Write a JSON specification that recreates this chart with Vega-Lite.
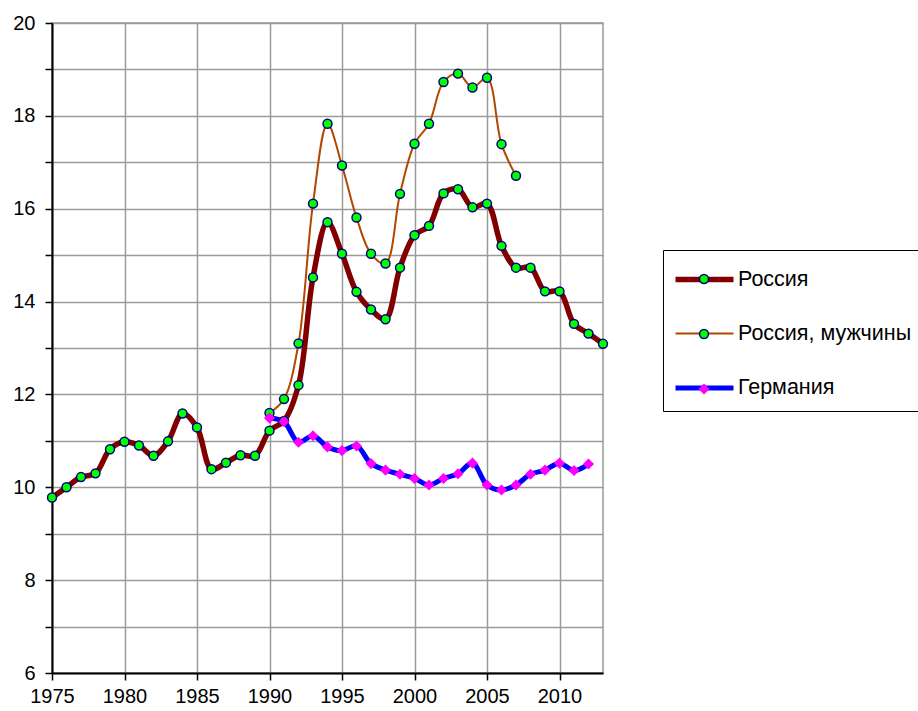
{
  "$schema": "https://vega.github.io/schema/vega-lite/v6.json",
  "width": 551,
  "height": 650,
  "autosize": {"type": "none"},
  "padding": {"left": 52, "top": 23, "right": 315, "bottom": 38},
  "background": "white",
  "config": {
    "view": {"stroke": "#9a9a9a", "strokeWidth": 1.5},
    "font": "Liberation Sans",
    "axis": {
      "grid": true,
      "gridColor": "#9a9a9a",
      "gridWidth": 1.5,
      "domainColor": "#000000",
      "domainWidth": 2,
      "tickColor": "#000000",
      "tickWidth": 1.5,
      "tickSize": 7,
      "labelFontSize": 20,
      "labelColor": "#000000",
      "labelFont": "Liberation Sans",
      "labelFlush": false,
      "labelOverlap": false,
      "title": null
    }
  },
  "data": {
    "values": [
      {"year": 1975, "series": "Россия", "value": 9.78},
      {"year": 1976, "series": "Россия", "value": 10.0},
      {"year": 1977, "series": "Россия", "value": 10.22},
      {"year": 1978, "series": "Россия", "value": 10.3},
      {"year": 1979, "series": "Россия", "value": 10.82},
      {"year": 1980, "series": "Россия", "value": 10.98},
      {"year": 1981, "series": "Россия", "value": 10.9},
      {"year": 1982, "series": "Россия", "value": 10.68},
      {"year": 1983, "series": "Россия", "value": 10.99},
      {"year": 1984, "series": "Россия", "value": 11.59},
      {"year": 1985, "series": "Россия", "value": 11.29},
      {"year": 1986, "series": "Россия", "value": 10.39},
      {"year": 1987, "series": "Россия", "value": 10.53},
      {"year": 1988, "series": "Россия", "value": 10.69},
      {"year": 1989, "series": "Россия", "value": 10.68},
      {"year": 1990, "series": "Россия", "value": 11.22},
      {"year": 1991, "series": "Россия", "value": 11.43},
      {"year": 1992, "series": "Россия", "value": 12.2},
      {"year": 1993, "series": "Россия", "value": 14.52},
      {"year": 1994, "series": "Россия", "value": 15.71},
      {"year": 1995, "series": "Россия", "value": 15.03},
      {"year": 1996, "series": "Россия", "value": 14.21},
      {"year": 1997, "series": "Россия", "value": 13.83},
      {"year": 1998, "series": "Россия", "value": 13.62},
      {"year": 1999, "series": "Россия", "value": 14.73},
      {"year": 2000, "series": "Россия", "value": 15.43},
      {"year": 2001, "series": "Россия", "value": 15.63},
      {"year": 2002, "series": "Россия", "value": 16.33},
      {"year": 2003, "series": "Россия", "value": 16.42},
      {"year": 2004, "series": "Россия", "value": 16.03},
      {"year": 2005, "series": "Россия", "value": 16.11},
      {"year": 2006, "series": "Россия", "value": 15.2},
      {"year": 2007, "series": "Россия", "value": 14.73},
      {"year": 2008, "series": "Россия", "value": 14.73},
      {"year": 2009, "series": "Россия", "value": 14.22},
      {"year": 2010, "series": "Россия", "value": 14.22},
      {"year": 2011, "series": "Россия", "value": 13.52},
      {"year": 2012, "series": "Россия", "value": 13.31},
      {"year": 2013, "series": "Россия", "value": 13.09},
      {"year": 1990, "series": "Россия, мужчины", "value": 11.6},
      {"year": 1991, "series": "Россия, мужчины", "value": 11.9},
      {"year": 1992, "series": "Россия, мужчины", "value": 13.1},
      {"year": 1993, "series": "Россия, мужчины", "value": 16.11},
      {"year": 1994, "series": "Россия, мужчины", "value": 17.83},
      {"year": 1995, "series": "Россия, мужчины", "value": 16.93},
      {"year": 1996, "series": "Россия, мужчины", "value": 15.81},
      {"year": 1997, "series": "Россия, мужчины", "value": 15.03},
      {"year": 1998, "series": "Россия, мужчины", "value": 14.82},
      {"year": 1999, "series": "Россия, мужчины", "value": 16.32},
      {"year": 2000, "series": "Россия, мужчины", "value": 17.4},
      {"year": 2001, "series": "Россия, мужчины", "value": 17.83},
      {"year": 2002, "series": "Россия, мужчины", "value": 18.73},
      {"year": 2003, "series": "Россия, мужчины", "value": 18.91},
      {"year": 2004, "series": "Россия, мужчины", "value": 18.61},
      {"year": 2005, "series": "Россия, мужчины", "value": 18.82},
      {"year": 2006, "series": "Россия, мужчины", "value": 17.39},
      {"year": 2007, "series": "Россия, мужчины", "value": 16.71},
      {"year": 1990, "series": "Германия", "value": 11.49},
      {"year": 1991, "series": "Германия", "value": 11.41},
      {"year": 1992, "series": "Германия", "value": 10.97},
      {"year": 1993, "series": "Германия", "value": 11.11},
      {"year": 1994, "series": "Германия", "value": 10.87},
      {"year": 1995, "series": "Германия", "value": 10.79},
      {"year": 1996, "series": "Германия", "value": 10.89},
      {"year": 1997, "series": "Германия", "value": 10.51},
      {"year": 1998, "series": "Германия", "value": 10.37},
      {"year": 1999, "series": "Германия", "value": 10.28},
      {"year": 2000, "series": "Германия", "value": 10.19},
      {"year": 2001, "series": "Германия", "value": 10.05},
      {"year": 2002, "series": "Германия", "value": 10.19},
      {"year": 2003, "series": "Германия", "value": 10.29},
      {"year": 2004, "series": "Германия", "value": 10.52},
      {"year": 2005, "series": "Германия", "value": 10.05},
      {"year": 2006, "series": "Германия", "value": 9.94},
      {"year": 2007, "series": "Германия", "value": 10.05},
      {"year": 2008, "series": "Германия", "value": 10.28},
      {"year": 2009, "series": "Германия", "value": 10.37},
      {"year": 2010, "series": "Германия", "value": 10.52},
      {"year": 2011, "series": "Германия", "value": 10.36},
      {"year": 2012, "series": "Германия", "value": 10.5}
    ]
  },
  "encoding": {
    "x": {
      "field": "year",
      "type": "quantitative",
      "scale": {"domain": [1975, 2013], "nice": false, "zero": false},
      "axis": {
        "values": [1975, 1980, 1985, 1990, 1995, 2000, 2005, 2010],
        "format": "d",
        "labelPadding": 6
      }
    },
    "y": {
      "field": "value",
      "type": "quantitative",
      "scale": {"domain": [6, 20], "nice": false, "zero": false},
      "axis": {
        "values": [6, 7, 8, 9, 10, 11, 12, 13, 14, 15, 16, 17, 18, 19, 20],
        "labelExpr": "datum.value % 2 === 0 ? datum.label : ''",
        "labelPadding": 10
      }
    }
  },
  "layer": [
    {
      "mark": {"type": "line", "interpolate": "catmull-rom", "strokeCap": "round", "strokeJoin": "round"},
      "encoding": {
        "color": {
          "field": "series",
          "type": "nominal",
          "scale": {
            "domain": ["Россия", "Россия, мужчины", "Германия"],
            "range": ["#800000", "#b34700", "#0000ff"]
          },
          "legend": {
            "title": null,
            "orient": "none",
            "legendX": 611,
            "legendY": 227,
            "padding": 12,
            "fillColor": "white",
            "strokeColor": "black",
            "cornerRadius": 0,
            "symbolType": "M-2,0H2",
            "symbolSize": 841,
            "symbolOffset": 12,
            "labelOffset": 16,
            "labelFontSize": 21.5,
            "labelFont": "Liberation Sans",
            "labelColor": "black",
            "labelLimit": 400,
            "rowPadding": 27,
            "zindex": 0,
            "encode": {"legend": {"strokeWidth": {"value": 2}}}
          }
        },
        "strokeWidth": {
          "field": "series",
          "type": "nominal",
          "scale": {
            "type": "ordinal",
            "domain": ["Россия", "Россия, мужчины", "Германия"],
            "range": [5.5, 2, 5]
          }
        }
      }
    },
    {
      "mark": {
        "type": "point",
        "filled": true,
        "size": 80,
        "opacity": 1,
        "strokeWidth": 1.5,
        "stroke": {"expr": "(datum.series || datum.value) === 'Германия' ? '#ff00ff' : '#000080'"},
        "shape": {"expr": "(datum.series || datum.value) === 'Германия' ? 'diamond' : 'circle'"}
      },
      "encoding": {
        "fill": {
          "field": "series",
          "type": "nominal",
          "sort": ["Россия", "Россия, мужчины", "Германия"],
          "scale": {"range": ["#00ff00", "#00ff00", "#ff00ff"]},
          "legend": {
            "title": null,
            "orient": "none",
            "legendX": 611,
            "legendY": 227,
            "padding": 12,
            "symbolSize": 80,
            "symbolOffset": 12,
            "symbolStrokeWidth": 1.5,
            "labelFontSize": 34,
            "labelExpr": "''",
            "rowPadding": 21,
            "zindex": 2
          }
        }
      }
    }
  ]
}
